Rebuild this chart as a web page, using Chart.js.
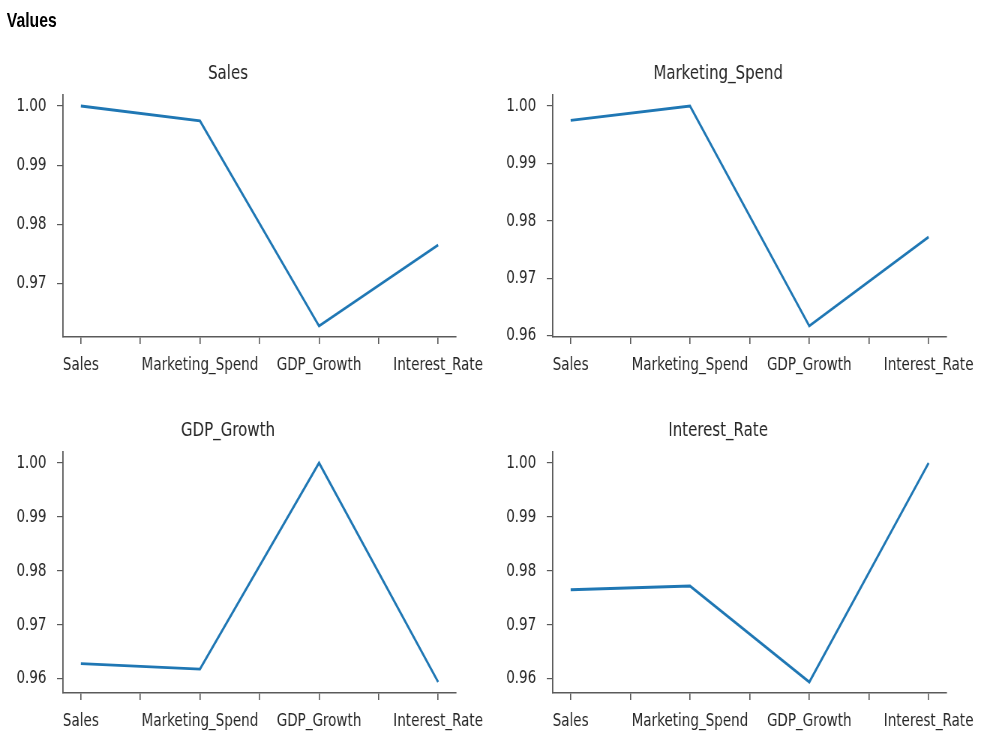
<!DOCTYPE html>
<html>
<head>
<meta charset="utf-8">
<script src="https://cdn.jsdelivr.net/npm/chart.js@4"></script>
<style>
  body { margin: 0; background: #fff; width: 1000px; height: 750px; position: relative; overflow: hidden; }
  /* the reference is a horizontally squeezed figure, so draw wide and squeeze */
  #wrap { position: absolute; left: 0; top: 0; width: 1333px; height: 750px; transform: scaleX(0.75); transform-origin: 0 0; }
  #heading { position: absolute; left: 9px; top: 8px; font: bold 21px "Liberation Sans", Arial, sans-serif; color: #000; }
  .box { position: absolute; }
</style>
</head>
<body>
<div id="wrap">
  <div id="heading">Values</div>
  <div class="box" style="left:0;top:50px"><canvas id="c0" width="653" height="340"></canvas></div>
  <div class="box" style="left:653px;top:50px"><canvas id="c1" width="680" height="340"></canvas></div>
  <div class="box" style="left:0;top:407px"><canvas id="c2" width="653" height="340"></canvas></div>
  <div class="box" style="left:653px;top:407px"><canvas id="c3" width="680" height="340"></canvas></div>
</div>
<script>
// variables on the x axis (same in every panel)
var categories = ['Sales', 'Marketing_Spend', 'GDP_Growth', 'Interest_Rate'];

// one series per panel
var sales          = [1.0000, 0.9975, 0.9628, 0.9765];
var marketingSpend = [0.9975, 1.0000, 0.9617, 0.9772];
var gdpGrowth      = [0.9628, 0.9618, 1.0000, 0.9594];
var interestRate   = [0.9765, 0.9772, 0.9594, 1.0000];

var yTickValues = [0.96, 0.97, 0.98, 0.99, 1.00];
var xTickValues = [0, 0.5, 1, 1.5, 2, 2.5, 3];

var panels = [
    { id: 'c0', title: 'Sales', values: sales, right: 45, xh: 53 },
    { id: 'c1', title: 'Marketing_Spend', values: marketingSpend, right: 71, xh: 53 },
    { id: 'c2', title: 'GDP_Growth', values: gdpGrowth, right: 45, xh: 54 },
    { id: 'c3', title: 'Interest_Rate', values: interestRate, right: 71, xh: 54 }
];

var font = '"DejaVu Sans", sans-serif';
var axisColor = '#5a5a5a';
var textColor = '#262626';

panels.forEach(function (p) {
    var lo = Math.min.apply(null, p.values), hi = Math.max.apply(null, p.values);
    var pad = (hi - lo) * 0.05;
    var yMin = lo - pad, yMax = hi + pad;

    new Chart(document.getElementById(p.id), {
        type: 'line',
        data: {
            datasets: [{
                data: p.values.map(function (v, i) { return { x: i, y: v }; }),
                borderColor: 'rgb(31, 119, 180)',
                borderWidth: 2.8,
                pointRadius: 0,
                tension: 0,
                fill: false
            }]
        },
        options: {
            responsive: false,
            animation: false,
            layout: { padding: { left: 0, right: p.right, top: 0, bottom: 0 } },
            plugins: {
                legend: { display: false },
                tooltip: { enabled: false },
                title: {
                    display: true,
                    text: p.title,
                    color: textColor,
                    font: { family: font, size: 20, weight: 'normal', lineHeight: 1.2 },
                    padding: { top: 12, bottom: 9 }
                }
            },
            scales: {
                x: {
                    type: 'linear',
                    min: -0.15,
                    max: 3.15,
                    afterBuildTicks: function (s) {
                        s.ticks = xTickValues.map(function (v) { return { value: v }; });
                    },
                    afterFit: function (s) {
                        s.height = p.xh;
                        s.paddingLeft = 0; s.paddingRight = 0;
                    },
                    ticks: {
                        autoSkip: false,
                        maxRotation: 0,
                        padding: 11,
                        color: textColor,
                        font: { family: font, size: 18 },
                        callback: function (v) { return Number.isInteger(v) ? categories[v] : ''; }
                    },
                    grid: { drawOnChartArea: false, drawTicks: true, tickLength: 7, color: axisColor, lineWidth: 1.6 },
                    border: { display: true, color: axisColor, width: 1.4 }
                },
                y: {
                    min: yMin,
                    max: yMax,
                    afterBuildTicks: function (s) {
                        s.ticks = yTickValues.filter(function (v) { return v >= yMin && v <= yMax; })
                            .map(function (v) { return { value: v }; });
                    },
                    afterFit: function (s) {
                        s.width = 84;
                        s.paddingTop = 0; s.paddingBottom = 0;
                    },
                    ticks: {
                        padding: 14,
                        color: textColor,
                        font: { family: font, size: 18 },
                        callback: function (v) { return v.toFixed(2); }
                    },
                    grid: { drawOnChartArea: false, drawTicks: true, tickLength: 8, color: axisColor, lineWidth: 1.2 },
                    border: { display: true, color: axisColor, width: 1.8 }
                }
            }
        }
    });
});
</script>
</body>
</html>
